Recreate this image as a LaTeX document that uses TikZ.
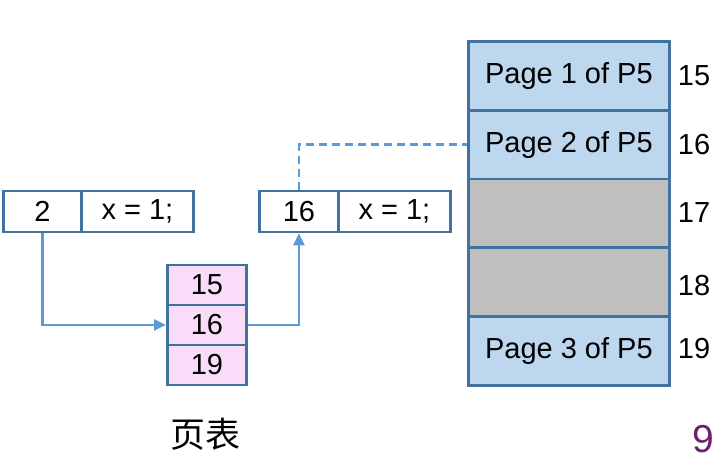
\documentclass[tikz,border=0pt]{standalone}
\usepackage{fontspec}
\setmainfont{Liberation Sans}
\newfontfamily\cjk{Noto Sans CJK SC}
\usetikzlibrary{arrows.meta}
\definecolor{edgeblue}{HTML}{41719C}
\definecolor{arrowblue}{HTML}{5B9BD5}
\definecolor{pageblue}{HTML}{BDD7EE}
\definecolor{pagegray}{HTML}{BFBFBF}
\definecolor{ptpink}{HTML}{F9DCF7}
\definecolor{numpurple}{HTML}{701E70}
\begin{document}
\begin{tikzpicture}[x=1pt,y=-1pt,
  cell/.style={draw=edgeblue,line width=2.8pt,inner sep=0pt,anchor=north west,
    font=\fontsize{29}{34}\selectfont},
  memcell/.style={cell,minimum width=201pt,minimum height=68.8pt},
  ptcell/.style={cell,fill=ptpink,minimum width=79pt,minimum height=40pt},
  lbl/.style={font=\fontsize{29}{34}\selectfont,inner sep=0pt},
  conn/.style={draw=arrowblue,line width=2.5pt},
  tip/.style={-{Triangle[length=12pt,width=11pt]}}]
\useasboundingbox (0,0) rectangle (723,463);
% left instruction
\node[cell,minimum width=78pt,minimum height=41pt] (a1) at (2,189.5) {2};
\node[cell,minimum width=112pt,minimum height=41pt] (a2) at (80,189.5) {x = 1;};
% right instruction
\node[cell,minimum width=79pt,minimum height=41pt] (b1) at (258,189.5) {16};
\node[cell,minimum width=112pt,minimum height=41pt] (b2) at (337,189.5) {x = 1;};
% page table
\node[ptcell] (p1) at (166,263.5) {15};
\node[ptcell] (p2) at (166,303.5) {16};
\node[ptcell] (p3) at (166,343.5) {19};
\node[lbl,font=\cjk\fontsize{35}{38}\selectfont] (ptl) at (205,434) {页表};
% memory
\node[memcell,fill=pageblue] (m1) at (467,40) {Page 1 of P5};
\node[memcell,fill=pageblue] (m2) at (467,108.8) {Page 2 of P5};
\node[memcell,fill=pagegray] (m3) at (467,177.6) {};
\node[memcell,fill=pagegray] (m4) at (467,246.4) {};
\node[memcell,fill=pageblue] (m5) at (467,315.2) {Page 3 of P5};
\node[lbl] (n15) at (694,76) {15};
\node[lbl] (n16) at (694,145) {16};
\node[lbl] (n17) at (694,213) {17};
\node[lbl] (n18) at (694,286) {18};
\node[lbl] (n19) at (694,349) {19};
\node[lbl,text=numpurple,font=\fontsize{39}{42}\selectfont] (pg) at (703,439) {9};
% connectors
\draw[conn,tip] (a1.south) |- (p2.west);
\draw[conn,tip] (p2.east) -| (b1.south);
\draw[conn,dashed,dash pattern=on 8pt off 5pt] (b1.north) |- (m2.west);
\end{tikzpicture}
\end{document}
